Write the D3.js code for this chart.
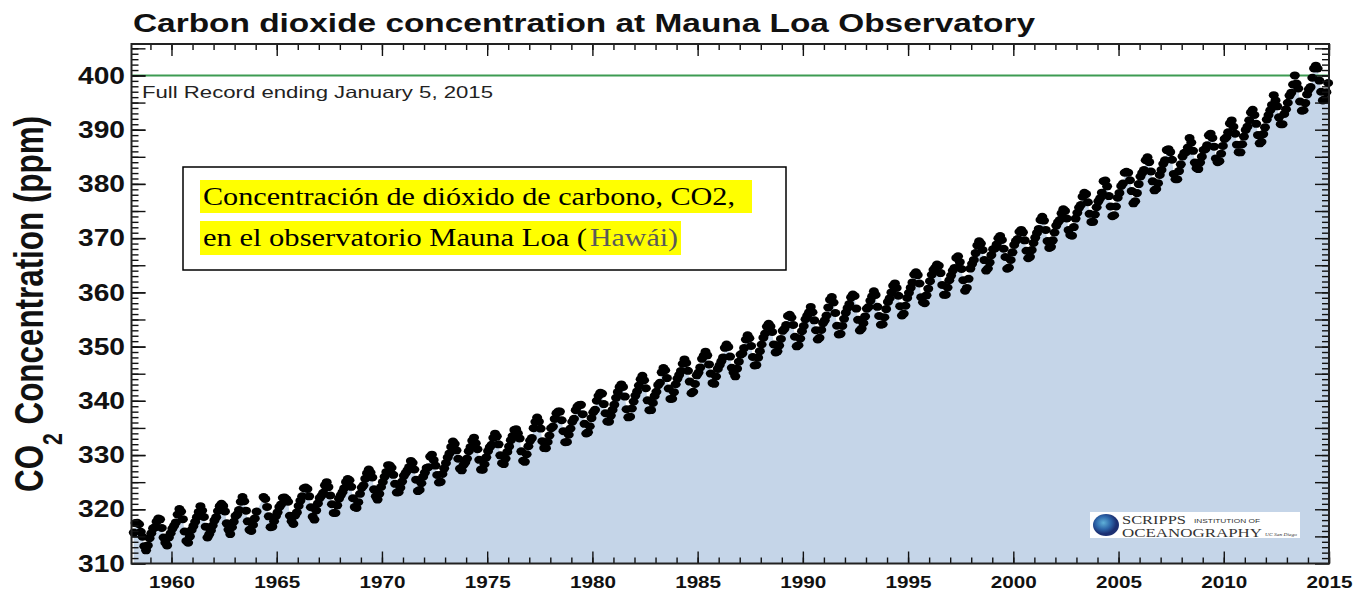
<!DOCTYPE html>
<meta charset="utf-8">
<style>

    body {
        margin: 0;
        background: #fff;
    }

    svg {
        display: block;
        font-family: "Liberation Sans", Arial, sans-serif;
    }

    .area {
        fill: #c5d5e8;
    }

    .target {
        stroke: #3d9b52;
        stroke-width: 2px;
    }

    .dot {
        fill: #000;
    }

    .frame {
        fill: none;
        stroke: #222;
        stroke-width: 2px;
    }

    .axis .domain {
        display: none;
    }

    .axis line {
        stroke: #111;
        stroke-width: 1.4px;
    }

    .axis text {
        font-family: "Liberation Sans", Arial, sans-serif;
        font-weight: bold;
        fill: #111;
    }

    .note {
        font-family: "Liberation Serif", serif;
        font-size: 25px;
    }

</style>
<svg></svg>
<script src="https://cdn.jsdelivr.net/npm/d3@7"></script>
<script>

    var width = 1355,
        height = 591;

    // Mauna Loa monthly means (ppm), one row per year, Jan..Dec; null = no value
    var startYear = 1958;

    var co2_1958_1969 = [
        [null, null, 315.70, 317.45, 317.51, 317.24, 315.86, 314.93, 313.20, 312.43, 313.33, 314.67],
        [315.58, 316.49, 316.65, 317.72, 318.29, 318.15, 316.54, 314.80, 313.84, 313.33, 314.81, 315.58],
        [316.43, 316.98, 317.58, 319.03, 320.04, 319.59, 318.18, 315.90, 314.17, 313.83, 315.00, 316.19],
        [316.90, 317.70, 318.54, 319.48, 320.58, 319.77, 318.57, 316.79, 314.80, 315.38, 316.10, 317.01],
        [317.94, 318.55, 319.68, 320.57, 321.02, 320.62, 319.61, 317.40, 316.25, 315.42, 316.69, 317.70],
        [318.74, 319.07, 319.86, 321.38, 322.25, 321.48, 319.74, 317.77, 316.21, 315.99, 317.12, 318.31],
        [319.57, null, null, null, 322.25, 321.89, 320.44, 318.70, 316.70, 316.79, 317.79, 318.71],
        [319.44, 320.44, 320.89, 322.13, 322.16, 321.87, 321.39, 318.81, 317.81, 317.30, 318.87, 319.42],
        [320.62, 321.59, 322.39, 323.87, 324.01, 323.75, 322.39, 320.37, 318.64, 318.10, 319.79, 321.08],
        [322.07, 322.50, 323.04, 324.42, 325.00, 324.09, 322.55, 320.92, 319.31, 319.31, 320.72, 321.96],
        [322.57, 323.15, 323.89, 325.02, 325.57, 325.36, 324.14, 322.03, 320.41, 320.25, 321.31, 322.84],
        [324.00, 324.42, 325.64, 326.66, 327.34, 326.76, 325.88, 323.67, 322.38, 321.78, 322.85, 324.11]
    ];

    var co2_1970s = [
        [325.03, 325.99, 326.87, 328.13, 328.07, 327.66, 326.35, 324.69, 323.10, 323.16, 323.98, 325.13],
        [326.17, 326.68, 327.18, 327.78, 328.92, 328.57, 327.34, 325.46, 323.36, 323.57, 324.80, 326.01],
        [326.77, 327.63, 327.75, 329.72, 330.07, 329.09, 328.05, 326.32, 324.93, 325.06, 326.50, 327.55],
        [328.54, 329.56, 330.30, 331.50, 332.48, 332.07, 330.87, 329.31, 327.51, 327.18, 328.16, 328.64],
        [329.35, 330.71, 331.48, 332.65, 333.20, 332.16, 331.07, 329.12, 327.32, 327.28, 328.30, 329.58],
        [330.73, 331.46, 331.90, 333.17, 333.94, 333.45, 331.97, 329.95, 328.50, 328.34, 329.37, 330.58],
        [331.59, 332.75, 333.52, 334.64, 334.77, 334.00, 333.06, 330.68, 328.95, 328.75, 330.15, 331.62],
        [332.66, 333.13, 334.95, 336.13, 336.93, 336.17, 334.88, 332.56, 331.29, 331.27, 332.41, 333.60],
        [334.95, 335.25, 336.66, 337.69, 338.03, 338.01, 336.41, 334.41, 332.37, 332.41, 333.75, 334.90],
        [336.14, 336.69, 338.27, 338.95, 339.21, 339.26, 337.54, 335.75, 333.98, 334.19, 335.31, 336.81]
    ];

    var co2_1980s = [
        [337.90, 338.34, 340.01, 340.93, 341.48, 341.33, 339.40, 337.70, 336.19, 336.15, 337.27, 338.32],
        [339.29, 340.55, 341.61, 342.53, 343.03, 342.54, 340.78, 338.44, 336.95, 337.08, 338.58, 339.88],
        [340.96, 341.73, 342.81, 343.97, 344.63, 343.79, 342.32, 340.09, 338.28, 338.29, 339.60, 340.90],
        [341.68, 342.90, 343.33, 345.25, 346.03, 345.63, 344.19, 342.27, 340.35, 340.38, 341.59, 343.05],
        [344.10, 344.79, 345.52, 346.84, 347.63, 346.98, 345.53, 343.55, 341.40, 341.67, 343.10, 344.70],
        [345.21, 346.16, 347.74, 348.34, 349.06, 348.38, 346.71, 345.02, 343.27, 343.13, 344.49, 345.88],
        [346.56, 347.28, 348.01, 349.77, 350.38, 349.93, 348.16, 346.08, 345.22, 344.51, 345.93, 347.22],
        [348.52, 348.73, 349.73, 351.31, 352.09, 351.53, 350.11, 348.08, 346.52, 346.59, 347.96, 349.16],
        [350.39, 351.64, 352.41, 353.69, 354.21, 353.72, 352.69, 350.40, 348.92, 349.13, 350.20, 351.41],
        [352.91, 353.27, 353.96, 355.64, 355.86, 355.37, 353.99, 351.81, 350.05, 350.25, 351.49, 352.85]
    ];

    var co2_1990s = [
        [353.80, 355.04, 355.73, 356.32, 357.32, 356.34, 354.84, 353.01, 351.31, 351.62, 353.07, 354.33],
        [354.84, 355.73, 357.23, 358.66, 359.13, 358.13, 356.19, 353.85, 352.25, 352.35, 353.81, 355.12],
        [356.25, 357.11, 357.86, 359.09, 359.59, 359.33, 357.01, 354.94, 352.96, 353.32, 354.32, 355.57],
        [357.00, 357.31, 358.47, 359.27, 360.19, 359.52, 357.33, 355.64, 354.03, 354.12, 355.41, 356.91],
        [358.24, 358.92, 359.99, 361.23, 361.65, 360.81, 359.38, 357.46, 355.73, 356.07, 357.53, 358.98],
        [359.92, 360.86, 361.83, 363.30, 363.69, 363.19, 361.64, 359.12, 358.17, 357.99, 359.45, 360.68],
        [362.07, 363.24, 364.17, 364.57, 365.13, 364.92, 363.55, 361.38, 359.54, 359.58, 360.89, 362.24],
        [363.09, 364.03, 364.51, 366.35, 366.64, 365.59, 364.31, 362.25, 360.29, 360.82, 362.49, 364.38],
        [365.26, 365.98, 367.24, 368.66, 369.42, 368.99, 367.82, 365.95, 364.02, 364.40, 365.52, 366.88],
        [367.96, 368.09, 368.84, 369.98, 370.40, 369.66, 368.05, 366.52, 364.36, 364.57, 365.96, 367.38]
    ];

    var co2_2000s = [
        [368.75, 369.48, 369.83, 371.18, 371.51, 371.07, 369.59, 367.67, 366.29, 366.55, 367.79, 369.11],
        [370.10, 370.96, 371.70, 373.36, 373.94, 373.23, 371.52, 369.46, 368.19, 368.39, 369.59, 371.04],
        [372.31, 372.94, 373.34, 374.57, 375.32, 375.02, 373.62, 371.48, 370.60, 370.46, 372.04, 373.61],
        [374.68, 375.63, 376.11, 377.65, 378.35, 378.13, 376.61, 374.48, 372.98, 373.00, 374.35, 375.69],
        [376.79, 377.36, 378.39, 380.50, 380.62, 379.55, 377.76, 375.83, 374.05, 374.22, 375.84, 377.44],
        [378.34, 379.61, 380.08, 382.05, 382.24, 382.08, 380.67, 378.67, 376.42, 376.80, 378.31, 379.96],
        [381.37, 382.02, 382.56, 384.37, 384.92, 384.03, 382.28, 380.48, 378.81, 379.06, 380.14, 381.66],
        [382.58, 383.71, 384.34, 386.23, 386.41, 385.87, 384.45, 381.84, 380.86, 380.86, 382.36, 383.61],
        [385.07, 385.72, 385.85, 386.71, 388.45, 387.64, 386.10, 383.95, 382.91, 382.73, 383.96, 385.02],
        [386.26, 386.39, 387.11, 388.96, 389.26, 388.47, 386.87, 384.70, 383.99, 384.19, 385.57, 387.00]
    ];

    var co2_2010s = [
        [388.29, 388.61, 389.51, 391.15, 391.71, 390.56, 389.26, 387.23, 385.86, 385.82, 387.32, 388.72],
        [389.94, 390.55, 391.74, 393.18, 393.68, 392.70, 391.08, 389.01, 387.48, 387.76, 389.19, 390.43],
        [391.88, 392.69, 393.59, 394.56, 396.37, 395.39, 394.30, 392.27, 391.01, 391.01, 392.89, 393.76],
        [394.97, 396.28, 396.82, 398.34, 400.00, 398.51, 397.60, 395.20, 393.49, 393.58, 394.91, 396.51],
        [397.44, 397.85, 399.58, 401.30, 401.80, 401.28, 399.05, 397.00, 395.39, 395.59, 396.92, 398.61]
    ];

    var xTickLabels = ["1960", "1965", "1970", "1975", "1980", "1985", "1990", "1995", "2000", "2005", "2010", "2015"];
    var yTickLabels = ["310", "320", "330", "340", "350", "360", "370", "380", "390", "400"];

    var target = 400;

    var rows = [].concat(co2_1958_1969, co2_1970s, co2_1980s, co2_1990s, co2_2000s, co2_2010s);
    var data = [];
    rows.forEach(function(row, i) {
        row.forEach(function(v, m) {
            if (v != null) data.push({t: startYear + i + (m + 0.5) / 12, v: v});
        });
    });

    var pLeft = 131.5, pRight = 1329, pTop = 44, pBottom = 563.5;

    var x = d3.scaleLinear()
        .domain([1958.1, 2015])
        .range([pLeft, pRight]);

    var y = d3.scaleLinear()
        .domain([310, 405.8])
        .range([pBottom, pTop]);

    var svg = d3.select("svg")
        .attr("width", width)
        .attr("height", height);

    var defs = svg.append("defs");

    defs.append("clipPath")
        .attr("id", "plot")
        .append("rect")
        .attr("x", pLeft).attr("y", pTop)
        .attr("width", pRight - pLeft).attr("height", pBottom - pTop);

    // shaded area under the record
    var area = d3.area()
        .x(function(d) { return x(d.t); })
        .y0(pBottom)
        .y1(function(d) { return y(d.v); });

    svg.append("path")
        .datum(data)
        .attr("class", "area")
        .attr("clip-path", "url(#plot)")
        .attr("d", area);

    svg.append("line")
        .attr("class", "target")
        .attr("x1", pLeft).attr("x2", pRight)
        .attr("y1", y(target)).attr("y2", y(target));

    svg.append("g")
        .selectAll("ellipse")
        .data(data)
        .enter().append("ellipse")
        .attr("class", "dot")
        .attr("cx", function(d) { return x(d.t); })
        .attr("cy", function(d) { return y(d.v); })
        .attr("rx", 5)
        .attr("ry", 4);

    // axes, ticks point inward on all four sides
    var xMajor = xTickLabels.map(Number),
        xMinor = d3.range(1959, 2016),
        yMajor = yTickLabels.map(Number),
        yMid = d3.range(310, 406, 5),
        yMinor = d3.range(311, 406);

    function ticks(axis, pos, values, size) {
        return svg.append("g")
            .attr("class", "axis")
            .attr("transform", pos)
            .call(axis.tickValues(values).tickSize(size).tickSizeOuter(0).tickFormat(""));
    }

    ticks(d3.axisBottom(x), "translate(0," + pBottom + ")", xMinor, -6);
    ticks(d3.axisTop(x), "translate(0," + pTop + ")", xMinor, -6);
    ticks(d3.axisTop(x), "translate(0," + pTop + ")", xMajor, -12);
    ticks(d3.axisLeft(y), "translate(" + pLeft + ",0)", yMinor, -7);
    ticks(d3.axisLeft(y), "translate(" + pLeft + ",0)", yMid, -14);
    ticks(d3.axisRight(y), "translate(" + pRight + ",0)", yMinor, -7);
    ticks(d3.axisRight(y), "translate(" + pRight + ",0)", yMid, -14);

    var xAxis = svg.append("g")
        .attr("class", "axis")
        .attr("transform", "translate(0," + pBottom + ")")
        .call(d3.axisBottom(x)
            .tickValues(xMajor)
            .tickSize(-12)
            .tickSizeOuter(0)
            .tickPadding(12)
            .tickFormat(function(d, i) { return xTickLabels[i]; }));

    xAxis.selectAll("text")
        .style("font-size", "17px")
        .attr("textLength", 46)
        .attr("lengthAdjust", "spacingAndGlyphs");

    var yAxis = svg.append("g")
        .attr("class", "axis")
        .attr("transform", "translate(" + pLeft + ",0)")
        .call(d3.axisLeft(y)
            .tickValues(yMajor)
            .tickSize(-14)
            .tickSizeOuter(0)
            .tickPadding(6.5)
            .tickFormat(function(d, i) { return yTickLabels[i]; }));

    yAxis.selectAll("text")
        .style("font-size", "24px")
        .attr("textLength", 47)
        .attr("lengthAdjust", "spacingAndGlyphs");

    svg.append("rect")
        .attr("class", "frame")
        .attr("x", pLeft).attr("y", pTop)
        .attr("width", pRight - pLeft).attr("height", pBottom - pTop);

    // titles
    svg.append("text")
        .attr("x", 133)
        .attr("y", 32)
        .attr("font-size", 25)
        .attr("font-weight", "bold")
        .attr("fill", "#111")
        .attr("textLength", 902)
        .attr("lengthAdjust", "spacingAndGlyphs")
        .text("Carbon dioxide concentration at Mauna Loa Observatory");

    var ylab = svg.append("text")
        .attr("transform", "translate(43,492) rotate(-90)")
        .attr("font-size", 40)
        .attr("font-weight", "bold")
        .attr("fill", "#111")
        .attr("textLength", 376)
        .attr("lengthAdjust", "spacingAndGlyphs");
    ylab.append("tspan").text("CO");
    ylab.append("tspan").attr("dy", 19).attr("font-size", 27).text("2");
    ylab.append("tspan").attr("dy", -19).text(" Concentration (ppm)");

    svg.append("text")
        .attr("x", 142)
        .attr("y", 98)
        .attr("font-size", 16.5)
        .attr("fill", "#222")
        .attr("textLength", 351)
        .attr("lengthAdjust", "spacingAndGlyphs")
        .text("Full Record ending January 5, 2015");

    // annotation box
    svg.append("rect")
        .attr("x", 183).attr("y", 167)
        .attr("width", 603).attr("height", 103)
        .attr("fill", "#fff")
        .attr("stroke", "#000")
        .attr("stroke-width", 1.5);

    svg.append("rect").attr("x", 200).attr("y", 180).attr("width", 552).attr("height", 33).attr("fill", "#ffff00");
    svg.append("rect").attr("x", 200).attr("y", 221).attr("width", 481).attr("height", 34).attr("fill", "#ffff00");

    svg.append("text")
        .attr("class", "note")
        .attr("x", 203).attr("y", 205)
        .attr("textLength", 532)
        .attr("lengthAdjust", "spacingAndGlyphs")
        .text("Concentración de dióxido de carbono, CO2,");

    svg.append("text")
        .attr("class", "note")
        .attr("x", 203).attr("y", 246)
        .attr("textLength", 384)
        .attr("lengthAdjust", "spacingAndGlyphs")
        .text("en el observatorio Mauna Loa (");

    svg.append("text")
        .attr("class", "note")
        .attr("x", 590).attr("y", 246)
        .attr("fill", "#5a5a5a")
        .attr("textLength", 88)
        .attr("lengthAdjust", "spacingAndGlyphs")
        .text("Hawái)");

    // Scripps logo
    var grad = defs.append("radialGradient")
        .attr("id", "globe")
        .attr("cx", "40%").attr("cy", "40%");
    grad.append("stop").attr("offset", "0%").attr("stop-color", "#5fb0d8");
    grad.append("stop").attr("offset", "60%").attr("stop-color", "#2c64a8");
    grad.append("stop").attr("offset", "100%").attr("stop-color", "#1b2f72");

    var logo = svg.append("g");
    logo.append("rect")
        .attr("x", 1090).attr("y", 512)
        .attr("width", 210).attr("height", 26)
        .attr("fill", "#fff");
    logo.append("ellipse")
        .attr("cx", 1106).attr("cy", 525)
        .attr("rx", 13).attr("ry", 11)
        .attr("fill", "url(#globe)");
    logo.append("text")
        .attr("x", 1122).attr("y", 524)
        .attr("font-family", "Liberation Serif, serif")
        .attr("font-size", 13)
        .attr("fill", "#333")
        .attr("textLength", 64)
        .attr("lengthAdjust", "spacingAndGlyphs")
        .text("SCRIPPS");
    logo.append("text")
        .attr("x", 1194).attr("y", 523)
        .attr("font-family", "Liberation Sans, sans-serif")
        .attr("font-size", 5)
        .attr("fill", "#333")
        .attr("textLength", 66)
        .attr("lengthAdjust", "spacingAndGlyphs")
        .text("INSTITUTION OF");
    logo.append("text")
        .attr("x", 1122).attr("y", 537)
        .attr("font-family", "Liberation Serif, serif")
        .attr("font-size", 13)
        .attr("fill", "#333")
        .attr("textLength", 140)
        .attr("lengthAdjust", "spacingAndGlyphs")
        .text("OCEANOGRAPHY");
    logo.append("text")
        .attr("x", 1265).attr("y", 536)
        .attr("font-family", "Liberation Serif, serif")
        .attr("font-style", "italic")
        .attr("font-size", 5)
        .attr("fill", "#333")
        .attr("textLength", 32)
        .attr("lengthAdjust", "spacingAndGlyphs")
        .text("UC San Diego");

</script>
